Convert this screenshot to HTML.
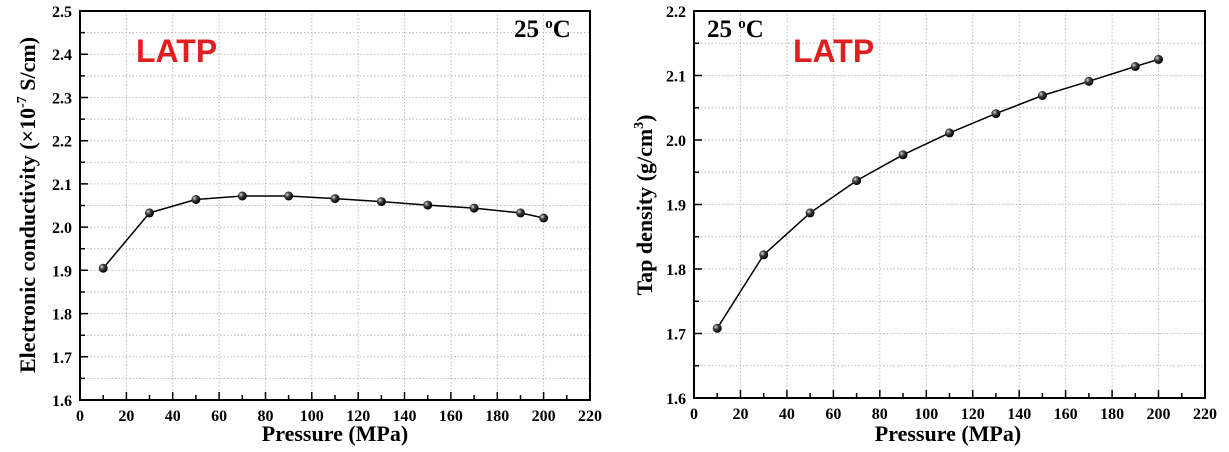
<!DOCTYPE html>
<html><head><meta charset="utf-8"><style>body{margin:0;background:#fff}svg{display:block}</style></head><body>
<svg width="1229" height="452" viewBox="0 0 1229 452" xmlns="http://www.w3.org/2000/svg" font-family="Liberation Serif, serif" font-weight="bold">
<defs><radialGradient id="g" cx="35%" cy="35%" r="65%"><stop offset="0" stop-color="#ddd"/><stop offset="0.4" stop-color="#444"/><stop offset="1" stop-color="#000"/></radialGradient></defs>

<!-- LEFT -->
<g stroke="#bbb" stroke-dasharray="1.5,2" fill="none">
<path d="M126.4 11V400M172.7 11V400M219.1 11V400M265.5 11V400M311.8 11V400M358.2 11V400M404.5 11V400M450.9 11V400M497.3 11V400M543.6 11V400"/>
<path d="M80 378.4H590M80 356.8H590M80 335.2H590M80 313.6H590M80 292H590M80 270.3H590M80 248.7H590M80 227.1H590M80 205.5H590M80 183.9H590M80 162.3H590M80 140.7H590M80 119.1H590M80 97.5H590M80 75.9H590M80 54.2H590M80 32.6H590"/>
</g>
<g stroke="#000" stroke-width="1.5">
<path d="M80 378.4h5M80 356.8h8M80 335.2h5M80 313.6h8M80 292h5M80 270.3h8M80 248.7h5M80 227.1h8M80 205.5h5M80 183.9h8M80 162.3h5M80 140.7h8M80 119.1h5M80 97.5h8M80 75.9h5M80 54.2h8M80 32.6h5"/>
<path d="M103.2 400v-5M126.4 400v-8M149.5 400v-5M172.7 400v-8M195.9 400v-5M219.1 400v-8M242.3 400v-5M265.5 400v-8M288.6 400v-5M311.8 400v-8M335 400v-5M358.2 400v-8M381.4 400v-5M404.5 400v-8M427.7 400v-5M450.9 400v-8M474.1 400v-5M497.3 400v-8M520.5 400v-5M543.6 400v-8M566.8 400v-5"/>
</g>
<rect x="80" y="11" width="510" height="389" fill="none" stroke="#000" stroke-width="2"/>
<g font-size="16" text-anchor="end">
<text x="72" y="406">1.6</text><text x="72" y="362.8">1.7</text><text x="72" y="319.6">1.8</text><text x="72" y="276.3">1.9</text><text x="72" y="233.1">2.0</text><text x="72" y="189.9">2.1</text><text x="72" y="146.7">2.2</text><text x="72" y="103.5">2.3</text><text x="72" y="60.2">2.4</text><text x="72" y="17">2.5</text>
</g>
<g font-size="16" text-anchor="middle">
<text x="80" y="421">0</text><text x="126.4" y="421">20</text><text x="172.7" y="421">40</text><text x="219.1" y="421">60</text><text x="265.5" y="421">80</text><text x="311.8" y="421">100</text><text x="358.2" y="421">120</text><text x="404.5" y="421">140</text><text x="450.9" y="421">160</text><text x="497.3" y="421">180</text><text x="543.6" y="421">200</text><text x="590" y="421">220</text>
</g>
<polyline points="103.2,268.2 149.5,212.9 195.9,199.5 242.3,196 288.6,196 335,198.6 381.4,201.6 427.7,205.1 474.1,208.1 520.5,212.9 543.6,218" fill="none" stroke="#000" stroke-width="1.5" stroke-linejoin="round"/>
<g fill="url(#g)">
<circle cx="103.2" cy="268.2" r="4.5"/><circle cx="149.5" cy="212.9" r="4.5"/><circle cx="195.9" cy="199.5" r="4.5"/><circle cx="242.3" cy="196" r="4.5"/><circle cx="288.6" cy="196" r="4.5"/><circle cx="335" cy="198.6" r="4.5"/><circle cx="381.4" cy="201.6" r="4.5"/><circle cx="427.7" cy="205.1" r="4.5"/><circle cx="474.1" cy="208.1" r="4.5"/><circle cx="520.5" cy="212.9" r="4.5"/><circle cx="543.6" cy="218" r="4.5"/>
</g>
<text x="335" y="441" font-size="22" text-anchor="middle">Pressure (MPa)</text>
<text transform="translate(35,205) rotate(-90)" font-size="22" text-anchor="middle">Electronic conductivity (×10<tspan dy="-9" font-size="14">-7</tspan><tspan dy="9"> S/cm)</tspan></text>
<text x="136" y="62" font-family="Liberation Sans, sans-serif" font-size="32" fill="#e02020">LATP</text>
<text x="514" y="37" font-size="25">25 <tspan dy="-9" font-size="15">o</tspan><tspan dy="9">C</tspan></text>

<!-- RIGHT -->
<g stroke="#bbb" stroke-dasharray="1.5,2" fill="none">
<path d="M740.5 11V398M786.9 11V398M833.4 11V398M879.8 11V398M926.3 11V398M972.7 11V398M1019.2 11V398M1065.6 11V398M1112.1 11V398M1158.5 11V398"/>
<path d="M694 365.75H1205M694 333.5H1205M694 301.25H1205M694 269H1205M694 236.75H1205M694 204.5H1205M694 172.25H1205M694 140H1205M694 107.75H1205M694 75.5H1205M694 43.25H1205"/>
</g>
<g stroke="#000" stroke-width="1.5">
<path d="M694 365.75h5M694 333.5h8M694 301.25h5M694 269h8M694 236.75h5M694 204.5h8M694 172.25h5M694 140h8M694 107.75h5M694 75.5h8M694 43.25h5"/>
<path d="M717.2 398v-5M740.5 398v-8M763.7 398v-5M786.9 398v-8M810.1 398v-5M833.4 398v-8M856.6 398v-5M879.8 398v-8M903 398v-5M926.3 398v-8M949.5 398v-5M972.7 398v-8M995.9 398v-5M1019.2 398v-8M1042.4 398v-5M1065.6 398v-8M1088.9 398v-5M1112.1 398v-8M1135.3 398v-5M1158.5 398v-8M1181.8 398v-5"/>
</g>
<rect x="694" y="11" width="511" height="387" fill="none" stroke="#000" stroke-width="2"/>
<g font-size="16" text-anchor="end">
<text x="686" y="404">1.6</text><text x="686" y="339.5">1.7</text><text x="686" y="275">1.8</text><text x="686" y="210.5">1.9</text><text x="686" y="146">2.0</text><text x="686" y="81.5">2.1</text><text x="686" y="17">2.2</text>
</g>
<g font-size="16" text-anchor="middle">
<text x="694" y="419">0</text><text x="740.5" y="419">20</text><text x="786.9" y="419">40</text><text x="833.4" y="419">60</text><text x="879.8" y="419">80</text><text x="926.3" y="419">100</text><text x="972.7" y="419">120</text><text x="1019.2" y="419">140</text><text x="1065.6" y="419">160</text><text x="1112.1" y="419">180</text><text x="1158.5" y="419">200</text><text x="1205" y="419">220</text>
</g>
<polyline points="717.2,328.3 763.7,254.8 810.1,212.9 856.6,180.6 903,154.8 949.5,132.9 995.9,113.6 1042.4,95.5 1088.9,81.3 1135.3,66.5 1158.5,59.4" fill="none" stroke="#000" stroke-width="1.5" stroke-linejoin="round"/>
<g fill="url(#g)">
<circle cx="717.2" cy="328.3" r="4.5"/><circle cx="763.7" cy="254.8" r="4.5"/><circle cx="810.1" cy="212.9" r="4.5"/><circle cx="856.6" cy="180.6" r="4.5"/><circle cx="903" cy="154.8" r="4.5"/><circle cx="949.5" cy="132.9" r="4.5"/><circle cx="995.9" cy="113.6" r="4.5"/><circle cx="1042.4" cy="95.5" r="4.5"/><circle cx="1088.9" cy="81.3" r="4.5"/><circle cx="1135.3" cy="66.5" r="4.5"/><circle cx="1158.5" cy="59.4" r="4.5"/>
</g>
<text x="948" y="441" font-size="22" text-anchor="middle">Pressure (MPa)</text>
<text transform="translate(652,205) rotate(-90)" font-size="22" text-anchor="middle">Tap density (g/cm<tspan dy="-9" font-size="14">3</tspan><tspan dy="9">)</tspan></text>
<text x="793" y="62" font-family="Liberation Sans, sans-serif" font-size="32" fill="#e02020">LATP</text>
<text x="707" y="37" font-size="25">25 <tspan dy="-9" font-size="15">o</tspan><tspan dy="9">C</tspan></text>
</svg>
</body></html>
